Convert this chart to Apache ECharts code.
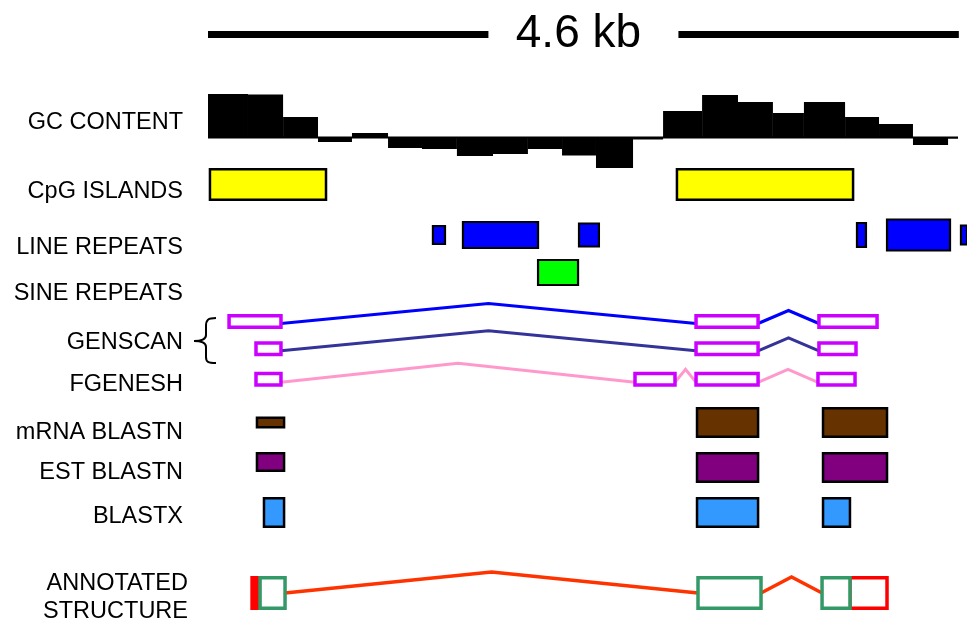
<!DOCTYPE html>
<html><head><meta charset="utf-8">
<script src="https://cdn.jsdelivr.net/npm/echarts@6/dist/echarts.min.js"></script>
<style>html,body{margin:0;padding:0;background:#fff}#c{width:967px;height:624px}</style>
</head><body><div id="c"></div>
<script>
// ================= DATA (genomic coordinates, bp) =================
const regionLengthBp = 4600;
const scaleLabel = '4.6 kb';
const trackLabels = ['GC CONTENT','CpG ISLANDS','LINE REPEATS','SINE REPEATS','GENSCAN','FGENESH','mRNA BLASTN','EST BLASTN','BLASTX','ANNOTATED','STRUCTURE'];

const gcBinStarts = [0,245,460,674,882,1103,1311,1525,1746,1960,2169,2377,2604,2788,3027,3247,3461,3651,3903,4111,4319,4534];
const gcBinEnd = 4595;
const gcValues = [43.5,43,20.5,-4.5,4.5,-10.5,-11.5,-18.5,-16.5,-11.5,-18,-30.5,-2,26.5,42.5,35.5,24.5,35.5,20.5,13.5,-7.5,-1];

const cpgIslands   = [[12,723],[2873,3952]];
const lineRepeats  = [[1378,1452],[1562,2022],[2273,2395],[3976,4031],[4160,4546],[4613,4650]];
const sineRepeats  = [[2022,2267]];
const genscanModel1 = [[129,447],[2990,3370],[3743,4099]];
const genscanModel2 = [[294,447],[2990,3370],[3743,3970]];
const fgeneshModel  = [[294,447],[2616,2861],[2990,3370],[3737,3964]];
const mrnaBlastn   = [[300,466],[2996,3370],[3768,4160]];
const estBlastn    = [[300,466],[2996,3370],[3768,4160]];
const blastxHits   = [[343,466],[2996,3370],[3768,3933]];
const annotatedUtr = [[270,319],[3933,4160]];
const annotatedCds = [[319,472],[3002,3388],[3762,3933]];

// ================= LAYOUT / STYLE =================
const FONT = '"Liberation Sans", Arial, Helvetica, sans-serif';
const LAY = {
  gridLeft: 208, gridWidth: 759, xMax: 4650,
  scale: {y: 34.5, thick: 7, gapHalf: 95, textOff: -5, fontSize: 46},
  gc: {top: 92.5, height: 80, min: -35, max: 45, baseLw: 2},
  cpg: {top: 169.25, h: 30.5},
  line: {center: 235, hs: [18,26,23,24,31,19]},
  sine: {top: 260, h: 25},
  gs1: {center: 321.5, h: 11.5, endOff: 2, riseLong: 20, riseShort: 13, intron: '#0000FF'},
  gs2: {center: 348.8, h: 11.5, endOff: 2, riseLong: 20, riseShort: 13, intron: '#333399'},
  fg:  {center: 379.3, h: 11.5, endOff: 3, riseLong: 19, riseShort: 13, intron: '#FF99CC'},
  mrna: {center: 422.5, hs: [9.5,28.5,28.5]},
  est: {top: 453.25, hs: [17.5,28.5,28.5]},
  blastx: {top: 498.25, h: 28.5},
  annot: {center: 593, h: 30.5, endOff: 0, riseLong: 21, riseShort: 16, intron: '#FF3300'},
  labelX: 183,
  labelY: [123,192,248,294,343,385,433,473,517,584,612],
  labelX2: {9: 188, 10: 188},
  labelSize: 23.5,
  brace: 'M216,318 C208,318 206,320 206,326 L206,335 C206,339 203,341 194,341 C203,341 206,343 206,347 L206,357 C206,362 208,363 216,363'
};

const chart = echarts.init(document.getElementById('c'), null, {renderer: 'canvas'});

function xpx(api, bp) { return api.coord([bp, 0])[0]; }
function ypx(api, y) { return api.coord([0, y])[1]; }

function boxSeries(name, data, geom, style) {
  return {
    type: 'custom', name, xAxisIndex: 0, yAxisIndex: 0, silent: true, clip: false,
    data: data.map(d => [d[0], d[1]]),
    encode: {x: [0, 1]},
    renderItem(params, api) {
      const x0 = xpx(api, api.value(0)), x1 = xpx(api, api.value(1));
      const g = geom(params.dataIndex);
      const y0 = ypx(api, g.top), y1 = ypx(api, g.top + g.height);
      const w = x1 - x0;
      let fill = style.fill;
      if (style.fillNarrow && w <= style.lw * 2.5) fill = style.stroke;
      return {type: 'rect', shape: {x: x0, y: y0, width: w, height: y1 - y0},
        style: {fill, stroke: style.stroke, lineWidth: style.lw}};
    }
  };
}

function geneSeries(name, exons, cfg, exonStyle, intronW) {
  return {
    type: 'custom', name, xAxisIndex: 0, yAxisIndex: 0, silent: true, clip: false,
    data: exons.map(d => [d[0], d[1]]),
    encode: {x: [0, 1]},
    renderItem(params, api) {
      const i = params.dataIndex;
      const x0 = xpx(api, api.value(0)), x1 = xpx(api, api.value(1));
      const children = [];
      if (i < exons.length - 1) {
        const nx = xpx(api, exons[i + 1][0]);
        const rise = (nx - x1) > 100 ? cfg.riseLong : cfg.riseShort;
        const yEnd = ypx(api, cfg.center + cfg.endOff);
        const yApex = ypx(api, cfg.center + cfg.endOff - rise);
        children.push({type: 'polyline', shape: {points: [[x1, yEnd], [(x1 + nx) / 2, yApex], [nx, yEnd]]},
          style: {stroke: cfg.intron, lineWidth: intronW, fill: null, lineJoin: 'miter'}});
      }
      const y0 = ypx(api, cfg.center - cfg.h / 2), y1 = ypx(api, cfg.center + cfg.h / 2);
      children.push({type: 'rect', shape: {x: x0, y: y0, width: x1 - x0, height: y1 - y0},
        style: {fill: '#fff', stroke: exonStyle.stroke, lineWidth: exonStyle.lw}});
      return {type: 'group', children};
    }
  };
}

const gcData = gcBinStarts.map((s, i) => [s, i < gcBinStarts.length - 1 ? gcBinStarts[i + 1] : gcBinEnd, gcValues[i]]);

const series = [];
// scale bar
series.push({
  type: 'custom', name: 'scale', xAxisIndex: 0, yAxisIndex: 0, silent: true, clip: false,
  data: [[0, regionLengthBp]], encode: {x: [0, 1]},
  renderItem(params, api) {
    const x0 = xpx(api, api.value(0)), x1 = xpx(api, api.value(1));
    const mid = (x0 + x1) / 2, y = ypx(api, LAY.scale.y), t = LAY.scale.thick;
    return {type: 'group', children: [
      {type: 'rect', shape: {x: x0, y: y - t / 2, width: mid - LAY.scale.gapHalf - x0, height: t}, style: {fill: '#000'}},
      {type: 'rect', shape: {x: mid + LAY.scale.gapHalf, y: y - t / 2, width: x1 - mid - LAY.scale.gapHalf, height: t}, style: {fill: '#000'}},
      {type: 'text', x: mid + LAY.scale.textOff, y: y, style: {text: scaleLabel, fill: '#000', font: LAY.scale.fontSize + 'px ' + FONT, align: 'center', verticalAlign: 'middle'}}
    ]};
  }
});
// GC content
series.push({
  type: 'custom', name: 'GC', xAxisIndex: 1, yAxisIndex: 1, silent: true, clip: false,
  data: gcData, encode: {x: [0, 1], y: 2},
  renderItem(params, api) {
    const a = api.coord([api.value(0), 0]), b = api.coord([api.value(1), api.value(2)]);
    return {type: 'rect', shape: {x: a[0], y: Math.min(a[1], b[1]), width: b[0] - a[0], height: Math.abs(b[1] - a[1])},
      style: {fill: '#000'}};
  }
});
series.push({
  type: 'custom', name: 'GC baseline', xAxisIndex: 1, yAxisIndex: 1, silent: true, clip: false,
  data: [[gcBinStarts[0], gcBinEnd]], encode: {x: [0, 1]},
  renderItem(params, api) {
    const a = api.coord([api.value(0), 0]), b = api.coord([api.value(1), 0]);
    return {type: 'rect', shape: {x: a[0], y: a[1] - LAY.gc.baseLw / 2, width: b[0] - a[0], height: LAY.gc.baseLw}, style: {fill: '#000'}};
  }
});

series.push(boxSeries('CpG', cpgIslands, () => ({top: LAY.cpg.top, height: LAY.cpg.h}), {fill: '#FFFF00', stroke: '#000', lw: 2.5}));
series.push(boxSeries('LINE', lineRepeats, i => ({top: LAY.line.center - LAY.line.hs[i] / 2, height: LAY.line.hs[i]}), {fill: '#0000FF', stroke: '#000', lw: 2.2}));
series.push(boxSeries('SINE', sineRepeats, () => ({top: LAY.sine.top, height: LAY.sine.h}), {fill: '#00FF00', stroke: '#000', lw: 2.2}));

const exonStyle = {stroke: '#CC00FF', lw: 3.5};
series.push(geneSeries('GENSCAN1', genscanModel1, LAY.gs1, exonStyle, 3));
series.push(geneSeries('GENSCAN2', genscanModel2, LAY.gs2, exonStyle, 3));
series.push(geneSeries('FGENESH', fgeneshModel, LAY.fg, exonStyle, 3));

series.push(boxSeries('mRNA', mrnaBlastn, i => ({top: LAY.mrna.center - LAY.mrna.hs[i] / 2, height: LAY.mrna.hs[i]}), {fill: '#663300', stroke: '#000', lw: 2.5}));
series.push(boxSeries('EST', estBlastn, i => ({top: LAY.est.top, height: LAY.est.hs[i]}), {fill: '#800080', stroke: '#000', lw: 2.5}));
series.push(boxSeries('BLASTX', blastxHits, () => ({top: LAY.blastx.top, height: LAY.blastx.h}), {fill: '#3399FF', stroke: '#000', lw: 2.5}));

series.push(boxSeries('UTR', annotatedUtr, () => ({top: LAY.annot.center - LAY.annot.h / 2, height: LAY.annot.h}), {fill: '#fff', stroke: '#FF0000', lw: 3.5, fillNarrow: true}));
series.push(geneSeries('CDS', annotatedCds, LAY.annot, {stroke: '#339966', lw: 3.5}, 3.5));

// GENSCAN brace (decoration)
series.push({
  type: 'custom', name: 'brace', xAxisIndex: 0, yAxisIndex: 0, silent: true, clip: false,
  data: [[0, 0]],
  renderItem() {
    return {type: 'path', shape: {pathData: LAY.brace}, style: {fill: null, stroke: '#000', lineWidth: 2}};
  }
});

const graphic = trackLabels.map((t, i) => ({
  type: 'text', x: LAY.labelX2[i] || LAY.labelX, y: LAY.labelY[i], silent: true,
  style: {text: t, fill: '#000', font: LAY.labelSize + 'px ' + FONT, align: 'right', verticalAlign: 'middle'}
}));

chart.setOption({
  animation: false,
  backgroundColor: '#fff',
  grid: [
    {left: LAY.gridLeft, top: 0, width: LAY.gridWidth, height: 624},
    {left: LAY.gridLeft, top: LAY.gc.top, width: LAY.gridWidth, height: LAY.gc.height}
  ],
  xAxis: [
    {type: 'value', gridIndex: 0, min: 0, max: LAY.xMax, show: false},
    {type: 'value', gridIndex: 1, min: 0, max: LAY.xMax, show: false}
  ],
  yAxis: [
    {type: 'value', gridIndex: 0, min: 0, max: 624, inverse: true, show: false},
    {type: 'value', gridIndex: 1, min: LAY.gc.min, max: LAY.gc.max, show: false}
  ],
  series,
  graphic
});
</script>
</body></html>
